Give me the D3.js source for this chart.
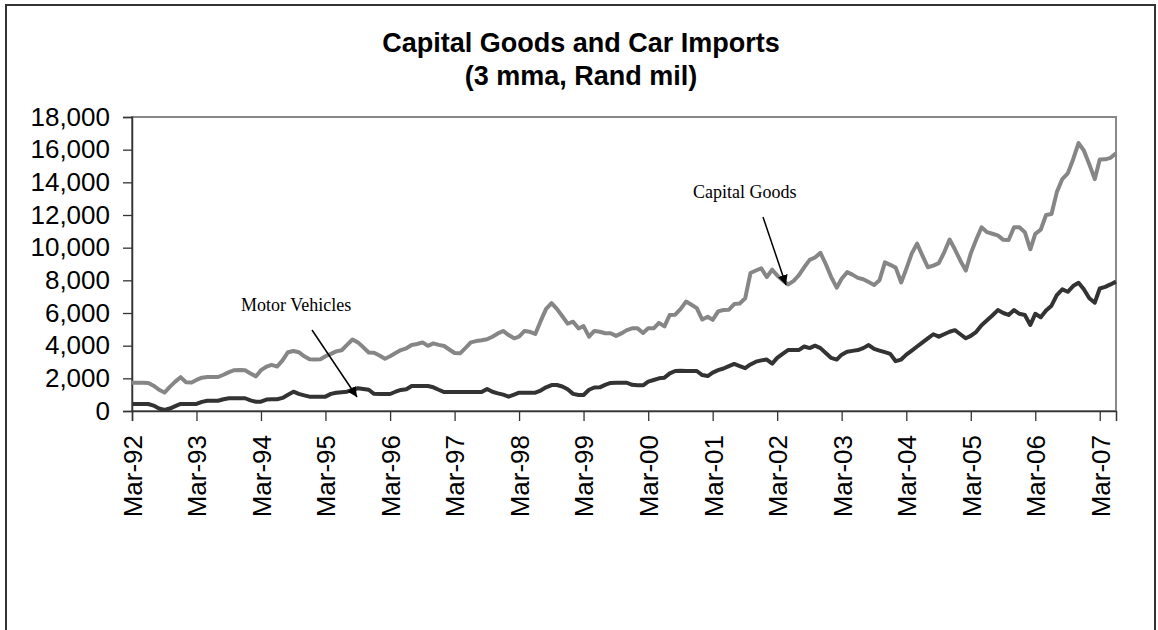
<!DOCTYPE html>
<html>
<head>
<meta charset="utf-8">
<script src="https://cdn.jsdelivr.net/npm/d3@7"></script>
<style>
  body { margin: 0; background: #fff; }
  svg { display: block; }
</style>
</head>
<body>
<div id="chart"></div>
<script>
// monthly 3 mma, Rand mil, Mar-92 .. Jun-07
const startMonth = new Date(1992, 2, 1);

const capitalGoods = [
  1730, 1730, 1730, 1720, 1550, 1300, 1130, 1480, 1800, 2070, 1760, 1740,
  1900, 2040, 2080, 2080, 2080, 2220, 2380, 2500, 2510, 2500, 2300, 2120,
  2500, 2710, 2830, 2720, 3100, 3600, 3670, 3600, 3350, 3170, 3160, 3170,
  3350, 3500, 3650, 3720, 4050, 4380, 4200, 3900, 3580, 3570, 3400, 3200,
  3350, 3550, 3730, 3840, 4040, 4100, 4200, 3990, 4140, 4050, 3980, 3750,
  3550, 3530, 3850, 4200, 4280, 4330, 4390, 4550, 4750, 4900, 4650, 4450,
  4550, 4900, 4850, 4720, 5500, 6250, 6600, 6250, 5800, 5350, 5470, 5050,
  5200, 4550, 4900, 4850, 4760, 4760, 4600, 4750, 4950, 5060, 5060, 4780,
  5060, 5060, 5400, 5180, 5880, 5900, 6250, 6700, 6500, 6300, 5600, 5770,
  5580, 6100, 6180, 6200, 6550, 6580, 6900, 8450, 8600, 8740, 8200, 8650,
  8300, 8000, 7750, 7950, 8300, 8800, 9250, 9400, 9680, 9000, 8200, 7550,
  8100, 8500, 8350, 8150, 8070, 7900, 7720, 8000, 9100, 8950, 8780, 7870,
  8700, 9650, 10250, 9500, 8800, 8900, 9050, 9700, 10500, 9900, 9200, 8600,
  9650, 10500, 11250, 10950, 10850, 10750, 10480, 10470, 11250, 11250, 10950, 9900,
  10850, 11100, 12000, 12060, 13400, 14200, 14550, 15400, 16400, 15950, 15100, 14200,
  15400, 15410, 15500, 15780
];

const motorVehicles = [
  430, 430, 430, 430, 330, 150, 60, 150, 300, 430, 430, 430,
  430, 560, 630, 630, 630, 720, 780, 780, 780, 780, 650, 570,
  570, 700, 720, 720, 800, 1000, 1180, 1050, 960, 880, 880, 880,
  880, 1050, 1120, 1150, 1180, 1300, 1390, 1350, 1300, 1050, 1040, 1040,
  1040, 1180, 1290, 1330, 1530, 1530, 1530, 1530, 1450, 1300, 1160, 1160,
  1160, 1160, 1160, 1160, 1160, 1160, 1350, 1180, 1080, 1000, 880, 1000,
  1120, 1120, 1120, 1120, 1250, 1450, 1590, 1590, 1500, 1330, 1050, 980,
  980, 1300, 1440, 1450, 1600, 1720, 1730, 1730, 1730, 1600, 1570, 1570,
  1800, 1900, 2000, 2040, 2300, 2450, 2470, 2450, 2450, 2450, 2200, 2140,
  2350, 2500, 2600, 2750, 2880, 2750, 2620, 2850, 3020, 3100, 3150, 2900,
  3250, 3500, 3730, 3730, 3730, 3950, 3850, 4000, 3850, 3550, 3250, 3150,
  3450, 3630, 3680, 3730, 3850, 4040, 3800, 3700, 3600, 3500, 3050, 3150,
  3450, 3700, 3950, 4200, 4450, 4700, 4550, 4700, 4850, 4950, 4700, 4450,
  4600, 4850, 5250, 5550, 5850, 6180, 6000, 5880, 6180, 5950, 5880, 5270,
  5950, 5740, 6150, 6450, 7100, 7450, 7300, 7650, 7850, 7450, 6900, 6630,
  7500, 7600, 7750, 7920
];

const yTicks = [0, 2000, 4000, 6000, 8000, 10000, 12000, 14000, 16000, 18000];
const titleLines = ["Capital Goods and Car Imports", "(3 mma, Rand mil)"];

const months = capitalGoods.map((d, i) => d3.timeMonth.offset(startMonth, i));

const width = 1158, height = 630;
const plot = { left: 132, right: 1116, top: 117, bottom: 411 };

const svg = d3.select("#chart")
  .append("svg")
    .attr("width", width)
    .attr("height", height);

// outer chart border
svg.append("rect")
  .attr("x", 6).attr("y", 5)
  .attr("width", 1149).attr("height", 640)
  .attr("fill", "#fff")
  .attr("stroke", "#333")
  .attr("stroke-width", 2);

const x = d3.scaleTime()
  .domain([months[0], months[months.length - 1]])
  .range([plot.left, plot.right]);

const y = d3.scaleLinear()
  .domain([0, 18000])
  .range([plot.bottom, plot.top]);

// plot area frame (grey top/right)
svg.append("rect")
  .attr("x", plot.left).attr("y", plot.top)
  .attr("width", plot.right - plot.left)
  .attr("height", plot.bottom - plot.top)
  .attr("fill", "none")
  .attr("stroke", "#888")
  .attr("stroke-width", 2);

// title
svg.append("g").selectAll("text")
  .data(titleLines)
  .enter().append("text")
    .attr("x", 581)
    .attr("y", (d, i) => 52 + i * 33)
    .attr("text-anchor", "middle")
    .style("font-family", "Arial, 'Liberation Sans', sans-serif")
    .style("font-weight", "bold")
    .style("font-size", "27px")
    .text(d => d);

// y axis
const yAxis = svg.append("g")
  .attr("transform", `translate(${plot.left},0)`)
  .call(d3.axisLeft(y)
    .tickValues(yTicks)
    .tickSize(9)
    .tickPadding(13)
    .tickFormat(d3.format(",")));
yAxis.select(".domain").attr("stroke", "#333").attr("stroke-width", 1.5);
yAxis.selectAll(".tick line").attr("stroke", "#333").attr("stroke-width", 1.3);
yAxis.selectAll(".tick text")
  .attr("fill", "#000")
  .style("font-family", "Arial, 'Liberation Sans', sans-serif")
  .style("font-size", "26px");

// x axis
const marchTicks = months.filter(d => d.getMonth() === 2);
const xAxis = svg.append("g")
  .attr("transform", `translate(0,${plot.bottom})`)
  .call(d3.axisBottom(x)
    .tickValues(marchTicks)
    .tickSize(10)
    .tickFormat(d3.timeFormat("%b-%y")));
xAxis.select(".domain").attr("stroke", "#333").attr("stroke-width", 1.5);
xAxis.selectAll(".tick line").attr("stroke", "#333").attr("stroke-width", 1.3);
xAxis.selectAll(".tick text")
  .attr("fill", "#000")
  .attr("transform", "rotate(-90)")
  .attr("text-anchor", "end")
  .attr("x", -24)
  .attr("y", 0)
  .attr("dy", "0.36em")
  .style("font-family", "Arial, 'Liberation Sans', sans-serif")
  .style("font-size", "26px");

// lines
const line = d3.line()
  .x((d, i) => x(months[i]))
  .y(d => y(d));

svg.append("path")
  .datum(capitalGoods)
  .attr("fill", "none")
  .attr("stroke", "#868686")
  .attr("stroke-width", 4)
  .attr("stroke-linejoin", "round")
  .attr("d", line);

svg.append("path")
  .datum(motorVehicles)
  .attr("fill", "none")
  .attr("stroke", "#333")
  .attr("stroke-width", 4)
  .attr("stroke-linejoin", "round")
  .attr("d", line);

// annotations
svg.append("defs").append("marker")
  .attr("id", "head")
  .attr("viewBox", "0 0 10 10")
  .attr("refX", 10).attr("refY", 5)
  .attr("markerWidth", 10).attr("markerHeight", 10)
  .attr("markerUnits", "userSpaceOnUse")
  .attr("orient", "auto")
  .append("path")
    .attr("d", "M0,0 L10,5 L0,10 Z")
    .attr("fill", "#000");

const notes = [
  { text: "Motor Vehicles", tx: 241, ty: 311, x1: 312, y1: 330, x2: 357, y2: 397 },
  { text: "Capital Goods", tx: 693, ty: 198, x1: 763, y1: 217, x2: 786, y2: 285 }
];

const note = svg.append("g").selectAll("g")
  .data(notes)
  .enter().append("g");

note.append("text")
  .attr("x", d => d.tx)
  .attr("y", d => d.ty)
  .style("font-family", "'Times New Roman', 'Liberation Serif', serif")
  .style("font-size", "18px")
  .text(d => d.text);

note.append("line")
  .attr("x1", d => d.x1).attr("y1", d => d.y1)
  .attr("x2", d => d.x2).attr("y2", d => d.y2)
  .attr("stroke", "#000")
  .attr("stroke-width", 1.5)
  .attr("marker-end", "url(#head)");
</script>
</body>
</html>
